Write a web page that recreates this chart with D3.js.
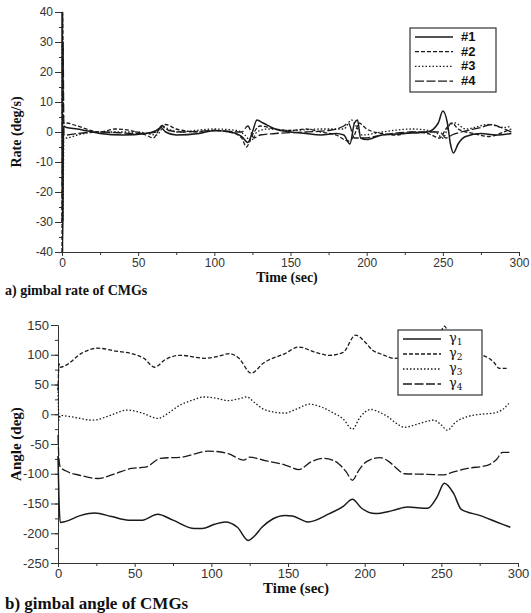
<!DOCTYPE html>
<html>
<head>
<meta charset="utf-8">
<script src="https://cdn.jsdelivr.net/npm/d3@7"></script>
<style>
  body { margin: 0; background: #fff; }
  svg { display: block; }
  .tick text { font-family: "Liberation Sans", Arial, sans-serif; fill: #333; }
  .ttl { font-family: "Liberation Serif", "Times New Roman", serif; font-weight: bold; fill: #111; }
</style>
</head>
<body>
<div id="chart"></div>
<script>
// gimbal rate (deg/s), [time, value]
const rate1 = [[0,40],[0.4,-40],[1,2],[3,1.5],[10,1],[25,-0.5],[40,-1],[55,-0.5],[62,0.5],[65,1.5],[68,0],[75,-1],[90,-0.5],[100,0.5],[110,0],[118,-1.5],[122,-3.5],[125,0],[128,4],[132,3],[140,1],[150,0],[160,-0.5],[170,-1],[180,-0.5],[185,-1],[189,-4],[192,3],[194,4],[196,-2],[200,-2.5],[210,-1],[225,-0.5],[240,0],[247,3],[250,7],[253,3],[255,-4],[257,-7],[260,-4],[265,-1.5],[275,-0.5],[285,-1],[295,-0.5]];
const rate2 = [[0,-40],[0.5,40],[1,3],[3,3],[10,2],[25,0],[35,1],[45,0.5],[55,-1],[60,-2],[65,2],[68,2.5],[75,1],[90,0],[100,0.5],[110,0],[118,-2],[121,-5],[125,-1],[130,2],[140,1],[150,0.5],[160,1],[170,0],[180,-1],[188,-3],[192,-1],[195,3],[200,1],[210,-0.5],[220,-1],[230,0],[240,-0.5],[248,-2],[252,1],[256,3],[260,1],[270,-0.5],[280,-1.5],[290,0],[295,1]];
const rate3 = [[0,30],[0.6,-30],[1.2,-2],[3,-2],[10,-1],[25,0],[50,0],[62,-1],[67,1.5],[75,0],[100,1],[115,0.5],[120,-1],[124,-3],[128,0],[135,1],[150,0.5],[170,1],[185,1],[190,4],[193,2],[197,-1],[210,0],[230,1],[245,0],[250,-2],[254,2],[258,3],[265,1],[280,2.5],[290,1.5],[295,2]];
const rate4 = [[0,-30],[0.7,30],[1.3,-1],[3,-1],[10,-0.5],[25,0],[50,-0.5],[62,0],[66,2],[70,0.5],[80,0],[100,0.5],[118,0],[122,2],[126,-2],[130,-1],[140,-0.5],[160,0],[175,0.5],[185,2],[188,3],[192,-2],[198,-2],[210,-1],[230,0],[248,0],[252,-2],[256,-1],[262,0],[275,1.5],[282,2.5],[288,1.5],[295,0]];

// gimbal angle (deg), [time, value]
const angle1 = [[0,-70],[0.6,-140],[1.5,-182],[5,-180],[15,-170],[24,-166],[35,-172],[46,-178],[55,-178],[65,-168],[75,-178],[89,-192],[94,-192],[102,-185],[109,-181],[117,-190],[124,-212],[128,-205],[133,-190],[140,-176],[148,-170],[153,-171],[163,-181],[177,-167],[186,-155],[192,-143],[198,-158],[207,-167],[218,-162],[228,-156],[241,-158],[247,-140],[252,-116],[258,-133],[263,-160],[275,-170],[286,-181],[295,-190]];
const angle2 = [[0,40],[0.7,85],[1.5,79],[5,82],[15,102],[26,111],[38,106],[48,102],[56,94],[63,79],[70,92],[80,99],[96,94],[104,97],[112,102],[118,94],[126,69],[134,86],[148,102],[157,113],[168,104],[177,99],[186,104],[194,133],[200,122],[205,108],[212,100],[219,94],[230,96],[242,102],[248,125],[252,148],[256,128],[264,105],[277,99],[284,88],[288,77],[293,77]];
const angle3 = [[0,50],[0.6,-10],[1.5,-2],[8,-4],[23,-10],[34,-2],[45,7],[55,2],[65,-7],[72,2],[78,13],[88,24],[95,29],[103,27],[111,23],[118,26],[123,29],[128,20],[133,10],[140,4],[148,2],[155,8],[164,17],[172,12],[179,3],[186,-8],[192,-25],[197,-5],[204,8],[210,3],[215,-4],[220,-14],[226,-22],[235,-16],[245,-10],[250,-18],[254,-27],[259,-14],[267,-4],[276,0],[284,2],[290,8],[294,18]];
const angle4 = [[0,-35],[0.5,-70],[1.5,-89],[5,-95],[15,-103],[26,-108],[37,-100],[48,-91],[57,-89],[67,-74],[81,-72],[90,-66],[98,-62],[105,-63],[111,-66],[121,-77],[125,-72],[135,-78],[145,-83],[151,-88],[157,-93],[165,-80],[173,-74],[179,-77],[183,-83],[188,-97],[192,-111],[196,-95],[201,-80],[210,-73],[216,-80],[220,-89],[226,-100],[241,-101],[251,-102],[258,-97],[267,-91],[280,-86],[286,-76],[290,-64],[295,-64]];

const xTicks = [0, 50, 100, 150, 200, 250, 300];
const rateTicks = [40, 30, 20, 10, 0, -10, -20, -30, -40];
const angleTicks = [150, 100, 50, 0, -50, -100, -150, -200, -250];
const rateNames = ['#1', '#2', '#3', '#4'];
const angleNames = ['1', '2', '3', '4'];

const W = 531, H = 613;
const dashes = [null, '4,2', '1.5,2', '9,2.5'];
const ink = '#1a1a1a';

const svg = d3.select('#chart').append('svg')
  .attr('width', W).attr('height', H);

function drawPanel(opts) {
  const x = d3.scaleLinear().domain([0, 300]).range([opts.left, opts.right]);
  const y = d3.scaleLinear().domain(opts.domain).range([opts.bottom, opts.top]);
  const g = svg.append('g');

  // minor ticks
  const minorY = d3.range(opts.domain[0], opts.domain[1] + 0.001, opts.minorStep);
  g.append('g').attr('transform', `translate(${opts.left},0)`)
    .call(d3.axisLeft(y).tickValues(minorY).tickSize(3).tickFormat(''))
    .call(a => a.select('.domain').remove());
  g.append('g').attr('transform', `translate(0,${opts.bottom})`)
    .call(d3.axisBottom(x).tickValues(d3.range(25, 300, 50)).tickSize(3).tickFormat(''))
    .call(a => a.select('.domain').remove());

  const yAxis = g.append('g').attr('transform', `translate(${opts.left},0)`)
    .call(d3.axisLeft(y).tickValues(opts.yTicks).tickSize(7).tickPadding(2)
      .tickFormat(d => d < 0 ? '-' + Math.abs(d) : d));
  yAxis.selectAll('text').style('font-size', opts.tickFont + 'px');

  const xAxis = g.append('g').attr('transform', `translate(0,${opts.bottom})`)
    .call(d3.axisBottom(x).tickValues(xTicks).tickSize(4).tickPadding(2));
  xAxis.selectAll('text').style('font-size', opts.tickFont + 'px');

  g.selectAll('.domain, .tick line').attr('stroke', '#333').attr('stroke-width', 1);

  const line = d3.line()
    .x(d => x(d[0])).y(d => y(d[1]))
    .curve(d3.curveMonotoneX);

  opts.series.forEach((s, i) => {
    g.append('path').datum(s)
      .attr('fill', 'none')
      .attr('stroke', ink)
      .attr('stroke-width', i === 0 ? 1.5 : 1.3)
      .attr('stroke-dasharray', dashes[i])
      .attr('d', line);
  });

  // axis titles
  g.append('text').attr('class', 'ttl')
    .attr('transform', `translate(${opts.yTitleX},${(opts.top + opts.bottom) / 2}) rotate(-90)`)
    .attr('text-anchor', 'middle')
    .style('font-size', opts.yTitleFont + 'px')
    .text(opts.yTitle);
  g.append('text').attr('class', 'ttl')
    .attr('x', opts.xTitleX).attr('y', opts.xTitleY)
    .attr('text-anchor', 'middle')
    .style('font-size', opts.xTitleFont + 'px')
    .text('Time (sec)');
  g.append('text').attr('class', 'ttl')
    .attr('x', 5).attr('y', opts.captionY)
    .style('font-size', opts.captionFont + 'px')
    .text(opts.caption);

  // legend
  const L = opts.legend;
  g.append('rect')
    .attr('x', L.x).attr('y', L.y).attr('width', L.w).attr('height', L.h)
    .attr('fill', '#fff').attr('stroke', '#333').attr('stroke-width', 1.2);
  opts.names.forEach((n, i) => {
    const yy = L.y + 9 + i * L.step;
    g.append('line')
      .attr('x1', L.x + 5).attr('x2', L.x + 43)
      .attr('y1', yy).attr('y2', yy)
      .attr('stroke', ink).attr('stroke-width', 1.3)
      .attr('stroke-dasharray', dashes[i]);
    const t = g.append('text')
      .attr('x', L.x + 51).attr('y', yy + 3)
      .attr('fill', '#111');
    if (opts.greek) {
      t.style('font-family', '"DejaVu Serif", "Liberation Serif", serif')
        .style('font-size', '13px')
        .text('γ');
      t.append('tspan').attr('dy', 3).attr('fill', '#111')
        .style('font-size', '9px').text(n);
    } else {
      t.attr('y', yy + 4)
        .style('font-family', '"Liberation Sans", Arial, sans-serif')
        .style('font-weight', 'bold').style('font-size', '13px')
        .text(n);
    }
  });
}

drawPanel({
  left: 62, right: 519, top: 12, bottom: 252,
  domain: [-40, 40], minorStep: 5, yTicks: rateTicks, tickFont: 12,
  series: [rate1, rate2, rate3, rate4],
  yTitle: 'Rate (deg/s)', yTitleX: 21, yTitleFont: 14,
  xTitleX: 287, xTitleY: 282, xTitleFont: 14,
  caption: 'a) gimbal rate of CMGs', captionY: 295, captionFont: 14,
  names: rateNames, greek: false,
  legend: { x: 410, y: 28, w: 86, h: 64, step: 14.7 }
});

drawPanel({
  left: 58, right: 518, top: 325, bottom: 563,
  domain: [-250, 150], minorStep: 25, yTicks: angleTicks, tickFont: 13,
  series: [angle1, angle2, angle3, angle4],
  yTitle: 'Angle (deg)', yTitleX: 21, yTitleFont: 15,
  xTitleX: 296, xTitleY: 593, xTitleFont: 15,
  caption: 'b) gimbal angle of CMGs', captionY: 609, captionFont: 17,
  names: angleNames, greek: true,
  legend: { x: 398, y: 330, w: 84, h: 65, step: 15 }
});
</script>
</body>
</html>
